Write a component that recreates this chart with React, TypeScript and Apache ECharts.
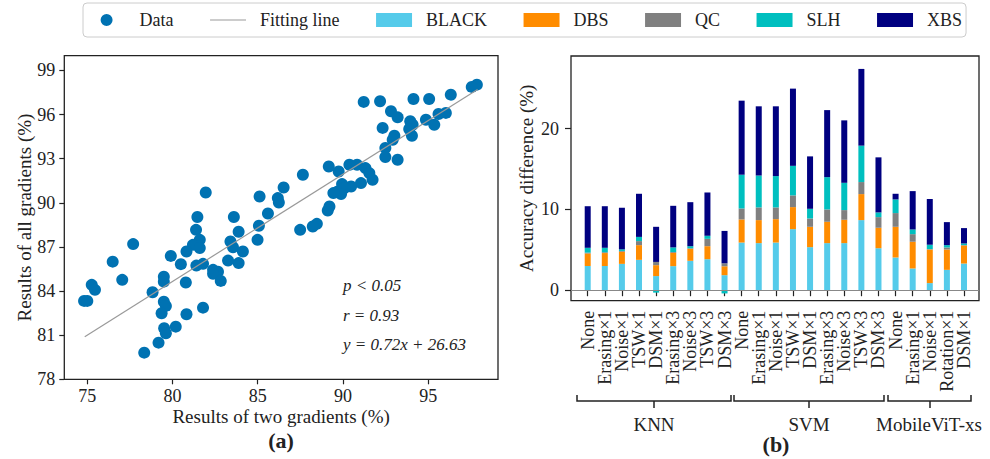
import React, { useEffect, useRef } from "react";
import * as echarts from "echarts";

// ---------- Panel (a) data ----------
const scatterX = [
  81.95, 85.11, 86.18, 86.24, 86.52, 85.6, 81.46, 81.38, 81.6, 83.6, 83.88, 85.07, 84.99, 83.4,
  77.69, 81.2, 80.82, 81.6, 83.55, 84.13, 83.88, 83.26, 79.9, 80.49, 76.49, 81.4, 81.79, 82.38,
  82.67, 82.38, 82.83, 77.05, 75.26, 75.45, 74.81, 75.0, 79.49, 79.49, 80.78, 78.83, 79.49, 79.61,
  79.36, 81.79, 80.82, 79.51, 79.61, 80.19, 79.18, 78.34,
  97.86, 97.56, 96.33, 95.06, 94.14, 92.18, 91.22, 92.82, 93.21, 92.33, 93.95, 94.09, 93.89, 94.87,
  95.36, 95.61, 96.04, 94.05, 93.02, 92.92, 92.49, 92.49, 93.21, 90.83, 90.38, 91.32, 91.55, 91.74,
  91.06, 89.95, 90.48, 90.09, 89.7, 89.89, 89.17, 89.75, 87.65, 89.44, 89.21, 89.11, 88.47, 88.23,
  87.49,
];
const scatterY = [
  90.7, 90.43, 90.32, 90.02, 91.04, 89.27, 89.03, 88.16, 87.48, 89.03, 88.03, 88.44, 87.48, 87.37,
  87.19, 87.14, 86.69, 86.92, 86.98, 86.69, 85.9, 86.07, 86.39, 85.83, 86.0, 85.73, 85.85, 85.44,
  85.32, 85.17, 84.69, 84.76, 84.42, 84.08, 83.33, 83.33, 84.98, 84.64, 84.58, 83.92, 83.28, 82.99,
  82.49, 82.87, 82.42, 81.47, 81.13, 81.58, 80.49, 79.81,
  98.03, 97.88, 97.35, 97.06, 97.06, 96.9, 96.86, 96.22, 95.81, 95.09, 95.54, 95.31, 95.02, 95.65,
  95.31, 96.04, 96.11, 94.56, 94.56, 94.29, 93.73, 93.11, 92.93, 92.59, 92.59, 92.36, 92.02, 91.57,
  91.34, 91.27, 91.11, 91.0, 90.77, 90.59, 92.47, 92.13, 91.91, 90.66, 89.75, 89.48, 88.57, 88.39,
  88.16,
];
const fitX = [74.85, 97.9];
const fitY = [80.9, 97.7];
const xTicksA = [75, 80, 85, 90, 95];
const yTicksA = [78, 81, 84, 87, 90, 93, 96, 99];
const statLines = ["p < 0.05", "r = 0.93", "y = 0.72x + 26.63"];

// ---------- Panel (b) data ----------
const groupNames = ["KNN", "SVM", "MobileViT-xs"];
const knnLabels = ["None", "Erasing×1", "Noise×1", "TSW×1", "DSM×1", "Erasing×3", "Noise×3", "TSW×3", "DSM×3"];
const svmLabels = ["None", "Erasing×1", "Noise×1", "TSW×1", "DSM×1", "Erasing×3", "Noise×3", "TSW×3", "DSM×3"];
const mobileLabels = ["None", "Erasing×1", "Noise×1", "Rotation×1", "DSM×1"];

const blackVals = [3.0, 3.0, 3.26, 3.76, 1.75, 2.98, 3.64, 3.84, 1.86,
  5.9, 5.83, 5.9, 7.56, 5.33, 5.83, 5.83, 8.68, 5.2,
  4.05, 2.69, 0.88, 2.52, 3.3];
const dbsVals = [1.55, 1.6, 1.5, 1.82, 1.35, 1.65, 1.48, 1.61, 1.1,
  2.86, 2.85, 2.9, 2.73, 2.52, 2.64, 2.89, 3.22, 2.53,
  3.8, 3.31, 4.16, 2.52, 2.24];
const qcVals = [0.1, 0.1, 0.1, 0.5, 0.4, 0.1, 0.08, 0.91, 0.37,
  1.36, 1.57, 1.45, 1.45, 1.03, 1.53, 1.2, 1.49, 1.32,
  1.7, 0.94, 0.05, 0.25, 0.05];
const slhVals = [0.6, 0.55, 0.2, 0.52, -0.3, 0.57, 0.25, 0.38, -0.4,
  4.18, 3.95, 3.88, 3.66, 1.2, 4.0, 3.38, 4.51, 0.58,
  1.69, 0.58, 0.54, 0.29, 0.2];
const xbsVals = [5.15, 5.15, 5.15, 5.34, 4.35, 5.15, 5.45, 5.36, 4.01,
  9.17, 8.57, 8.64, 9.56, 6.49, 8.3, 7.73, 9.5, 6.82,
  0.7, 4.75, 5.66, 2.85, 1.9];
const yTicksB = [0, 10, 20];

const FONT = "Liberation Serif";
const INK = "#222";

// legend icons: drawn inside a 45x14 box (tiny corner dots fix the bounding box)
const BOX = "M0 0h0.01v0.01h-0.01z M45 14h0.01v0.01h-0.01z ";
const ICON_DOT = "path://" + BOX + "M11 7a6 6 0 1 0 12 0a6 6 0 1 0 -12 0z";
const ICON_LINE = "path://" + BOX + "M0 6.4h36v1.2h-36z";
const ICON_PATCH = "path://" + BOX + "M0 0h36v14h-36z";

export default function App() {
  const ref = useRef<HTMLDivElement>(null);

  useEffect(() => {
    if (!ref.current) return;
    const chart = echarts.init(ref.current, undefined, { renderer: "svg" });

    const catKeys: string[] = [];
    [knnLabels, svmLabels, mobileLabels].forEach((arr, gi) =>
      arr.forEach((l) => catKeys.push(groupNames[gi] + "|" + l))
    );

    const scatterData = scatterX.map((x, i) => [x, scatterY[i]]);
    const fitData = fitX.map((x, i) => [x, fitY[i]]);

    const barSeries = [
      { name: "BLACK", vals: blackVals, color: "#55CBEA" },
      { name: "DBS", vals: dbsVals, color: "#FF8C00" },
      { name: "QC", vals: qcVals, color: "#808080" },
      { name: "SLH", vals: slhVals, color: "#00BFBF" },
      { name: "XBS", vals: xbsVals, color: "#000080" },
    ].map((s) => ({
      type: "bar",
      name: s.name,
      xAxisIndex: 1,
      yAxisIndex: 1,
      stack: "total",
      barWidth: 6,
      data: s.vals,
      itemStyle: { color: s.color },
    }));

    const axisTextStyle = { fontFamily: FONT, fontSize: 18, color: INK };
    const tickLine = { color: INK, width: 1.2 };

    const bracket = (x1: number, x2: number, xc: number) => [
      {
        type: "polyline",
        shape: { points: [[x1, 395], [x1, 401], [x2, 401], [x2, 395]] },
        style: { stroke: INK, lineWidth: 1.5, fill: null },
      },
      {
        type: "line",
        shape: { x1: xc, y1: 401, x2: xc, y2: 408 },
        style: { stroke: INK, lineWidth: 1.5 },
      },
    ];
    const txt = (
      text: string,
      x: number,
      y: number,
      size: number,
      opts: { bold?: boolean; italic?: boolean; align?: string } = {}
    ) => ({
      type: "text",
      x,
      y,
      style: {
        text,
        fontFamily: FONT,
        fontSize: size,
        fontWeight: opts.bold ? "bold" : "normal",
        fontStyle: opts.italic ? "italic" : "normal",
        fill: INK,
        textAlign: opts.align || "center",
        align: opts.align || "center",
        textVerticalAlign: "middle",
        verticalAlign: "middle",
      },
    });

    const option: any = {
      animation: false,
      backgroundColor: "#fff",
      textStyle: { fontFamily: FONT },
      legend: {
        left: 83,
        top: 3,
        padding: [8, 4, 8, 6.6],
        itemWidth: 45,
        itemHeight: 14,
        itemGap: 36.5,
        borderColor: "#ccc",
        borderWidth: 1,
        borderRadius: 4,
        textStyle: { fontFamily: FONT, fontSize: 18, color: INK },
        data: [
          { name: "Data", icon: ICON_DOT },
          { name: "Fitting line", icon: ICON_LINE, itemStyle: { color: "#999" } },
          { name: "BLACK", icon: ICON_PATCH },
          { name: "DBS", icon: ICON_PATCH },
          { name: "QC", icon: ICON_PATCH },
          { name: "SLH", icon: ICON_PATCH },
          { name: "XBS", icon: ICON_PATCH },
        ],
      },
      grid: [
        { left: 64.3, top: 55.7, width: 433.7, height: 323.6, show: true, borderColor: INK, borderWidth: 1.3, backgroundColor: "transparent" },
        { left: 579.15, top: 56, width: 393.4, height: 244.7 },
        { left: 571, top: 56, width: 408, height: 244.7, show: true, borderColor: INK, borderWidth: 1.3, backgroundColor: "transparent" },
      ],
      xAxis: [
        {
          gridIndex: 0,
          type: "value",
          min: 73.65,
          max: 99.1,
          axisLine: { show: false },
          splitLine: { show: false },
          axisTick: { show: true, customValues: xTicksA, length: 5, lineStyle: tickLine },
          axisLabel: { customValues: xTicksA, margin: 8, ...axisTextStyle },
          name: "Results of two gradients (%)",
          nameLocation: "middle",
          nameGap: 28,
          nameMoveOverlap: false,
          nameTextStyle: { fontFamily: FONT, fontSize: 19, color: INK },
        },
        {
          gridIndex: 1,
          type: "category",
          data: catKeys,
          axisLine: { show: false },
          axisTick: { show: true, alignWithLabel: true, interval: 0, length: 6, lineStyle: tickLine },
          axisLabel: {
            interval: 0,
            rotate: 90,
            margin: 10,
            formatter: (v: string) => v.split("|")[1],
            ...axisTextStyle,
          },
          splitLine: { show: false },
        },
        { gridIndex: 2, type: "value", min: 0, max: 1, show: false },
      ],
      yAxis: [
        {
          gridIndex: 0,
          type: "value",
          min: 78,
          max: 100,
          axisLine: { show: false },
          splitLine: { show: false },
          axisTick: { show: true, customValues: yTicksA, length: 5, lineStyle: tickLine },
          axisLabel: { customValues: yTicksA, margin: 9, ...axisTextStyle },
          name: "Results of all gradients (%)",
          nameLocation: "middle",
          nameGap: 30,
          nameMoveOverlap: false,
          nameTextStyle: { fontFamily: FONT, fontSize: 19, color: INK },
        },
        { gridIndex: 1, type: "value", min: -1.3, max: 29, show: false },
        {
          gridIndex: 2,
          type: "value",
          min: -1.3,
          max: 29,
          axisLine: { show: false },
          splitLine: { show: false },
          axisTick: { show: true, customValues: yTicksB, length: 6, lineStyle: tickLine },
          axisLabel: { customValues: yTicksB, margin: 12, ...axisTextStyle },
          name: "Accuracy difference (%)",
          nameLocation: "middle",
          nameGap: 35,
          nameMoveOverlap: false,
          nameTextStyle: { fontFamily: FONT, fontSize: 19, color: INK },
        },
      ],
      series: [
        {
          type: "scatter",
          name: "Data",
          xAxisIndex: 0,
          yAxisIndex: 0,
          symbolSize: 12,
          data: scatterData,
          itemStyle: { color: "#0072B2", opacity: 1 },
          z: 2,
        },
        {
          type: "line",
          name: "Fitting line",
          xAxisIndex: 0,
          yAxisIndex: 0,
          data: fitData,
          symbol: "none",
          lineStyle: { color: "#999", width: 1.2 },
          itemStyle: { color: "#999" },
          z: 3,
        },
        ...barSeries,
        {
          type: "line",
          name: "zero",
          xAxisIndex: 2,
          yAxisIndex: 2,
          data: [[0.5, 0]],
          symbol: "none",
          z: 5,
          markLine: {
            silent: true,
            symbol: "none",
            label: { show: false },
            lineStyle: { color: "#888", width: 1, type: "solid" },
            data: [{ yAxis: 0 }],
          },
        },
      ],
      graphic: [
        ...bracket(577, 731, 654),
        ...bracket(734, 884, 809),
        ...bracket(888, 971, 930),
        txt(groupNames[0], 654, 424, 19),
        txt(groupNames[1], 809, 424, 19),
        txt(groupNames[2], 929, 424, 19),
        txt("(a)", 281, 440, 22, { bold: true }),
        txt("(b)", 776, 444, 22, { bold: true }),
        txt(statLines[0], 343, 285, 17, { italic: true, align: "left" }),
        txt(statLines[1], 343, 315, 17, { italic: true, align: "left" }),
        txt(statLines[2], 343, 344, 17, { italic: true, align: "left" }),
      ],
    };

    chart.setOption(option);
    return () => chart.dispose();
  }, []);

  return (
    <div
      ref={ref}
      style={{ position: "fixed", left: 0, top: 0, width: 990, height: 459, background: "#fff" }}
    />
  );
}
